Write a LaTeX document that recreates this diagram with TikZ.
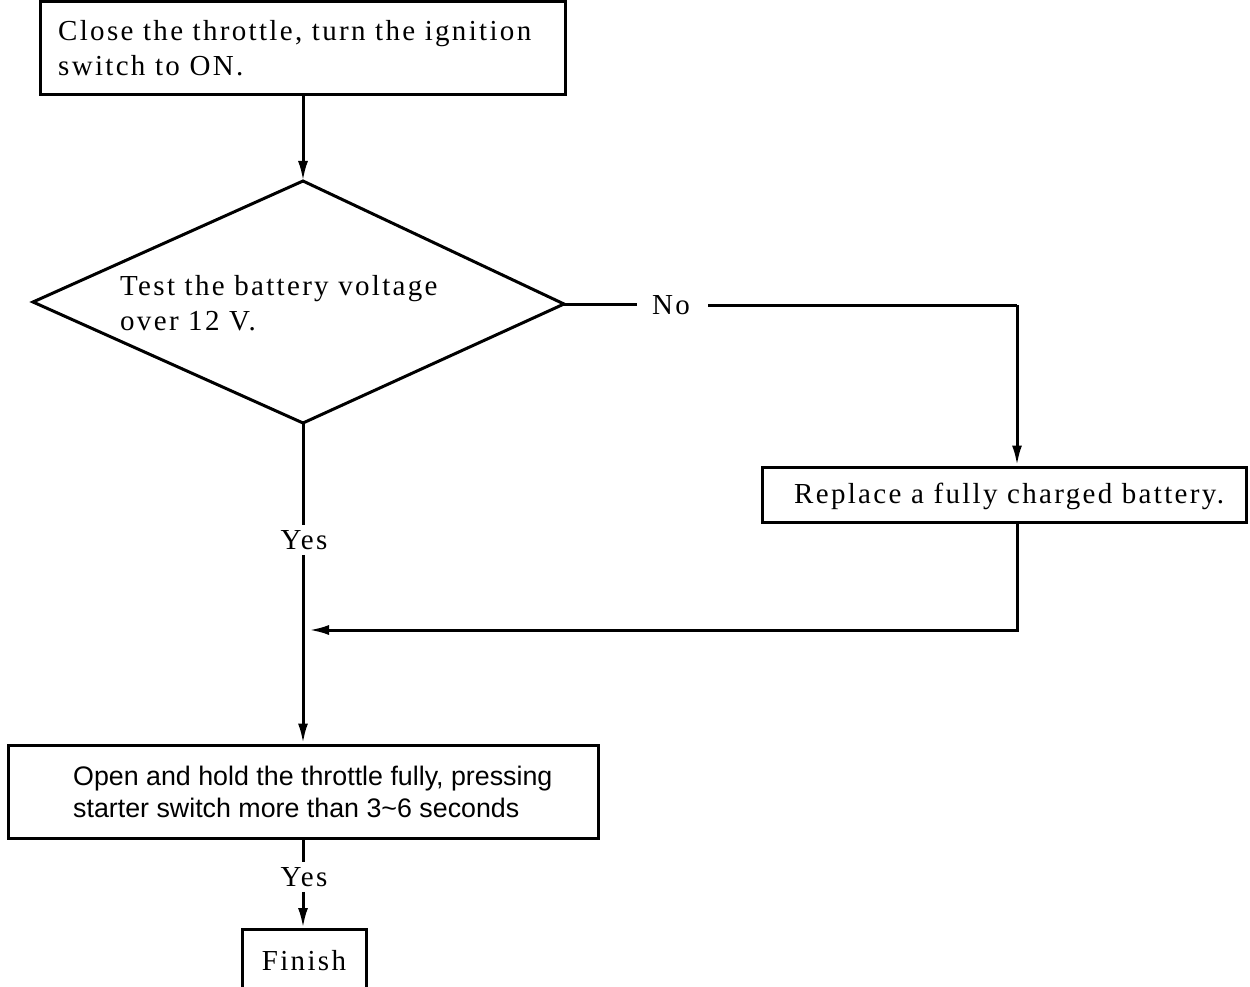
\documentclass[tikz,border=0pt]{standalone}
\usepackage{fontspec}
\setmainfont{Liberation Serif}[LetterSpace=8]
\newfontfamily\arialfont{Liberation Sans}
\usetikzlibrary{arrows.meta,calc}
\tikzset{
  box/.style={draw,line width=3pt,inner sep=0pt},
  conn/.style={line width=3pt},
  arr/.style={conn,-{Latex[length=20pt,width=10pt]}},
  serif/.style={font=\fontsize{29}{34}\selectfont,inner sep=0pt,anchor=base west},
  sans/.style={font=\arialfont\fontsize{26.8}{32}\selectfont,inner sep=0pt,anchor=base west},
  lbl/.style={font=\fontsize{29}{34}\selectfont,inner sep=5pt},
}
\begin{document}
\begin{tikzpicture}[x=1pt,y=-1pt]
\useasboundingbox (0,0) rectangle (1250,987);
\clip (0,0) rectangle (1250,987);
% boxes
\node[box,minimum width=525pt,minimum height=93pt] (start) at (302.5,48.5) {};
\node[serif] (starttxt1) at (58,41) {Close the throttle, turn the ignition};
\node[serif] (starttxt2) at (58,76) {switch to ON.};
% diamond
\coordinate (dt) at (303,181);
\coordinate (dr) at (564,304);
\coordinate (db) at (303,423);
\coordinate (dl) at (33,302);
\draw[conn,line join=miter] (dt) -- (dr) -- (db) -- (dl) -- cycle;
\node[serif] (testtxt1) at (120,295) {Test the battery voltage};
\node[serif] (testtxt2) at (120,330) {over 12 V.};
\node[lbl] (no) at (671,305) {No};
\node[box,minimum width=484pt,minimum height=55pt] (replace) at (1004,494.5) {};
\node[serif] (replacetxt) at (794,503) {Replace a fully charged battery.};
\node[lbl] (yes1) at (304,540) {Yes};
\coordinate (J) at (309,630);
\node[box,minimum width=590pt,minimum height=93pt] (open) at (303,791.5) {};
\node[sans] (opentxt1) at (73,785) {Open and hold the throttle fully, pressing};
\node[sans] (opentxt2) at (73,817) {starter switch more than 3\textasciitilde6 seconds};
\node[lbl] (yes2) at (304,877) {Yes};
\node[draw,line width=3pt,anchor=north,minimum width=124pt,minimum height=80pt,inner sep=0pt] (finish) at (304,928) {};
\node[lbl,inner sep=0pt] (finishtxt) at (304,961) {Finish};
% connectors
\draw[arr] (start.south -| dt) -- (dt);
\draw[conn] (dr) -- (637,304);
\draw[conn] (708,305) -- (1017,305);
\draw[arr] (1017,305) -- (replace.north -| 1017,0);
\draw[conn] (db) -- (yes1.north -| db);
\draw[arr] (yes1.south -| db) -- (open.north -| db);
\draw[arr] (replace.south -| 1017,0) |- (J);
\draw[conn] (open.south) -- (yes2.north -| open.south);
\draw[arr] (yes2.south -| open.south) -- (finish.north -| open.south);
\end{tikzpicture}
\end{document}
